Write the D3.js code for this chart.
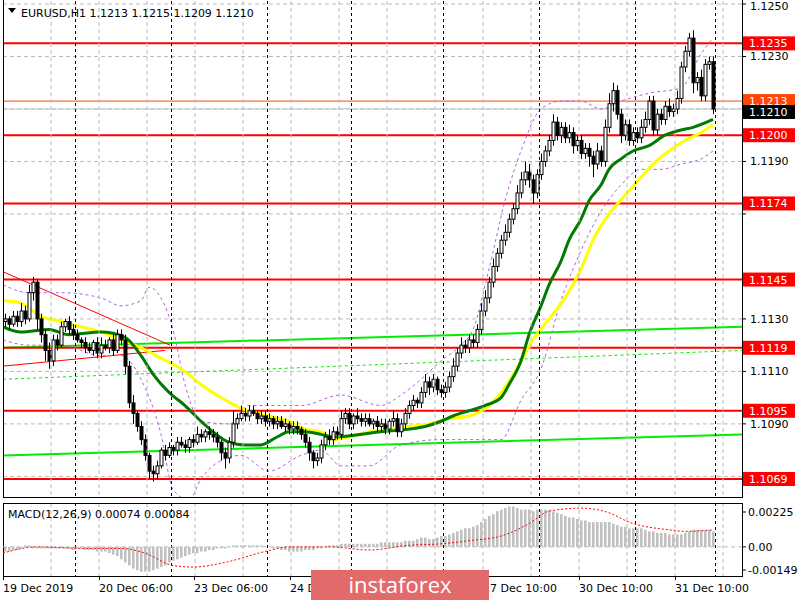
<!DOCTYPE html>
<html><head><meta charset="utf-8">
<script src="https://cdn.jsdelivr.net/npm/d3@7"></script>
<style>body{margin:0;background:#fff}svg{display:block;font-family:"DejaVu Sans",Tahoma,sans-serif}</style>
</head><body><svg id="c" width="800" height="600"></svg>
<script>
const closes=[1.1130,1.1128,1.1131,1.1129,1.1133,1.1130,1.1140,1.1144,1.1130,1.1124,
1.1118,1.1114,1.1122,1.1120,1.1127,1.1129,1.1126,1.1124,1.1122,1.1121,
1.1119,1.1118,1.1121,1.1117,1.1120,1.1119,1.1122,1.1118,1.1124,1.1122,
1.1112,1.1098,1.1094,1.1089,1.1084,1.1078,1.1072,1.1071,1.1074,1.1080,
1.1078,1.1081,1.1080,1.1083,1.1082,1.1081,1.1084,1.1083,1.1086,1.1085,
1.1087,1.1086,1.1085,1.1083,1.1079,1.1077,1.1083,1.1090,1.1092,1.1094,
1.1093,1.1095,1.1094,1.1092,1.1093,1.1091,1.1092,1.1090,1.1091,1.1089,
1.1090,1.1088,1.1089,1.1088,1.1086,1.1083,1.1079,1.1076,1.1077,1.1082,
1.1085,1.1084,1.1087,1.1086,1.1092,1.1094,1.1090,1.1093,1.1092,1.1091,
1.1092,1.1090,1.1091,1.1089,1.1090,1.1088,1.1091,1.1092,1.1087,1.1090,
1.1094,1.1097,1.1099,1.1098,1.1102,1.1106,1.1104,1.1107,1.1103,1.1102,
1.1104,1.1108,1.1112,1.1117,1.1120,1.1119,1.1122,1.1121,1.1126,1.1133,
1.1138,1.1144,1.1150,1.1155,1.1160,1.1163,1.1168,1.1172,1.1178,1.1183,
1.1186,1.1183,1.1178,1.1185,1.1190,1.1194,1.1198,1.1205,1.1200,1.1203,
1.1199,1.1201,1.1196,1.1198,1.1193,1.1195,1.1192,1.1189,1.1194,1.1190,
1.1203,1.1212,1.1217,1.1208,1.1200,1.1204,1.1198,1.1201,1.1199,1.1203,
1.1206,1.1213,1.1202,1.1208,1.1206,1.1211,1.1209,1.1210,1.1214,1.1226,
1.1232,1.1237,1.1220,1.1222,1.1215,1.1227,1.1228,1.1210];
const firstOpen=1.1129;
const upWick=[2,1,2,2,3,2,3,2,1,2, 2,3,2,2,2,1,2,2,2,1, 2,2,1,2,3,2,1,2,2,2, 2,2,3,1,2,2,1,2,2,1,
2,2,1,2,2,2,1,2,3,2, 1,2,2,2,1,2,2,5,2,3, 2,2,2,1,2,2,2,1,2,2, 2,1,2,2,1,2,2,1,2,2,
2,3,2,2,3,2,2,1,3,2, 2,2,1,2,2,2,1,3,2,2, 2,2,2,1,2,3,2,2,1,2, 2,2,3,2,3,2,2,2,2,3,
3,2,3,2,2,3,2,2,3,3, 4,3,2,2,3,2,2,3,2,2, 2,3,2,2,2,2,2,2,3,2, 3,4,3,2,2,2,2,2,2,3,
3,2,2,2,2,2,3,2,3,2, 2,2,3,2,3,2,2,2];
const dnWick=[2,2,1,2,2,2,1,3,4,3, 4,3,2,2,1,2,2,2,1,2, 2,1,2,2,2,1,2,2,1,2, 3,2,4,2,2,2,3,3,2,1,
2,1,2,2,1,2,2,2,1,2, 2,2,2,2,3,4,2,2,2,1, 2,2,1,2,2,2,2,2,2,1, 2,2,2,2,2,2,3,3,2,2,
2,2,2,2,2,2,2,2,2,2, 2,1,2,2,2,2,2,2,2,2, 2,2,2,2,2,2,3,2,2,2, 2,2,2,2,2,2,2,2,2,2,
2,2,2,2,2,2,2,2,2,2, 2,3,4,2,2,2,2,2,2,3, 2,2,3,2,2,2,4,5,2,2, 2,2,3,2,3,2,2,2,2,2,
2,2,2,2,2,2,2,2,2,2, 2,2,4,3,2,2,2,2];
const macdHist=[-0.0003,-0.0003,-0.0002,-0.0002,-0.0001,0.0001,0.0001,-0.0001,-0.0001,-0.0001,
-0.0001,-0.0001,-0.0001,-0.0001,-0.0001,-0.0001,-0.0001,-0.0002,-0.0001,-0.0001,
-0.0002,-0.0002,-0.0002,-0.0003,-0.0003,-0.0003,-0.0004,-0.0005,-0.0006,-0.0008,
-0.0010,-0.0012,-0.0014,-0.0015,-0.0016,-0.0016,-0.0016,-0.0015,-0.0014,-0.0013,
-0.0012,-0.0010,-0.0009,-0.0008,-0.0007,-0.0006,-0.0005,-0.0004,-0.0004,-0.0003,
-0.0003,-0.0002,-0.0002,-0.0001,-0.0001,-0.0001,0,0.0001,0.0001,0.0001,
0.0001,0.0001,0.0001,0.0001,0.0001,0,0,-0.0001,-0.0001,-0.0002,
-0.0002,-0.0003,-0.0003,-0.0003,-0.0003,-0.0002,-0.0002,-0.0002,-0.0001,-0.0001,
0,0.0001,0.0001,0.0001,0.0002,0.0002,0.0002,0.0002,0.0002,0.0002,
0.0002,0.0002,0.0002,0.0002,0.0003,0.0003,0.0003,0.0003,0.0003,0.0003,
0.0004,0.0004,0.0004,0.0005,0.0006,0.0006,0.0005,0.0005,0.0006,0.0007,
0.0007,0.0008,0.0009,0.0010,0.0011,0.0012,0.0012,0.0013,0.0014,0.0016,
0.0018,0.0020,0.0021,0.0023,0.0024,0.0025,0.0026,0.0026,0.0025,0.0024,
0.0024,0.0024,0.0023,0.0024,0.0024,0.0024,0.0024,0.0023,0.0022,0.0021,
0.0020,0.0019,0.0019,0.0018,0.0017,0.0017,0.0016,0.0016,0.0016,0.0016,
0.0016,0.0016,0.0015,0.0014,0.0013,0.0013,0.0012,0.0012,0.0012,0.0012,
0.0011,0.0010,0.0010,0.0009,0.0009,0.0009,0.0008,0.0008,0.0008,0.0008,
0.0009,0.0010,0.0011,0.0011,0.0011,0.0011,0.0011,0.0010];
const signalIdx=[-0.5,8,20,29,35,42,47,55,65,71,81,91,101,109,116,124,131,136,144,151,156,166,170,177];
const signalVal=[-0.0004,0,-0.0001,-0.0001,-0.0004,-0.0012,-0.0013,-0.0010,-0.0003,0,0,-0.0002,0.0001,0.0002,0.0004,0.0007,0.0015,0.0023,0.0025,0.0022,0.0016,0.0011,0.0010,0.0011];
const greenIdx=[-0.5,4,11,16,24,30,34,37,41,45,49,52,56,60,64,68,71,75,79,82,94,101,105,109,112,116,120,124,126,129,131,134,136,139,141,144,146,149,151,154,157,161,165,169,172,177];
const greenVal=[1.1127,1.1125,1.1126,1.1124,1.1125,1.1123,1.1116,1.1109,1.1102,1.1097,1.1091,1.1087,1.1083,1.1082,1.1082,1.1085,1.1087,1.1087,1.1086,1.1085,1.1087,1.1088,1.1089,1.1091,1.1093,1.1095,1.1097,1.1100,1.1105,1.1114,1.1124,1.1135,1.1143,1.1152,1.1160,1.1168,1.1175,1.1181,1.1187,1.1191,1.1194,1.1196,1.1200,1.1202,1.1203,1.1206,1.1211].slice(0,46);
const yellowIdx=[-0.5,4,9,14,19,24,29,34,39,44,49,54,59,66,71,75,79,82,86,91,96,101,106,111,116,121,125,129,132,136,140,144,147,151,155,159,162,166,170,174,177];
const yellowVal=[1.1137,1.1136,1.1131,1.1129,1.1127,1.1125,1.1122,1.1119,1.1115,1.1111,1.1105,1.1100,1.1096,1.1093,1.1091,1.1088,1.1087,1.1084,1.1085,1.1087,1.1088,1.1089,1.1090,1.1092,1.1093,1.1097,1.1104,1.1114,1.1122,1.1130,1.1138,1.1149,1.1160,1.1170,1.1177,1.1184,1.1189,1.1194,1.1198,1.1201,1.1204];
const bbUpIdx=[-0.5,6,14,24,29,34,36,39,42,45,49,56,61,74,84,94,99,104,109,114,117,121,125,129,134,139,144,149,154,161,169,174,177];
const bbUpVal=[1.1143,1.1140,1.1140,1.1138,1.1135,1.1137,1.1142,1.1138,1.1126,1.1105,1.1091,1.1090,1.1097,1.1097,1.1101,1.1097,1.1101,1.1107,1.1114,1.1120,1.1126,1.1149,1.1175,1.1194,1.1210,1.1213,1.1213,1.1210,1.1213,1.1216,1.1218,1.1231,1.1237];
const bbDnIdx=[-0.5,6,14,24,29,34,39,42,46,49,54,59,66,74,79,84,91,99,109,124,129,134,139,144,149,154,159,164,169,174,177];
const bbDnVal=[1.1122,1.1120,1.1120,1.1116,1.1116,1.1107,1.1086,1.1065,1.1061,1.1069,1.1076,1.1078,1.1072,1.1078,1.1080,1.1074,1.1074,1.1082,1.1084,1.1084,1.1099,1.1111,1.1137,1.1156,1.1171,1.1181,1.1187,1.1187,1.1189,1.1191,1.1194];
const longMaIdx=[-0.5,184.25];
const longMaA=[1.1119,1.1127], longMaB=[1.1078,1.1086], longMaC=[1.1107,1.1118];
const trendA=[[-0.5,1.1148],[41.25,1.1120]], trendB=[[-0.5,1.1112],[40,1.1118]];
const levels=[1.1235,1.1200,1.1174,1.1145,1.1119,1.1095,1.1069];
const orangeLevel=1.1213, lastPrice=1.1210;
const priceTicks=[1.1250,1.1230,1.1210,1.1190,1.1170,1.1130,1.1110,1.1090,1.1070];
const macdTicks=[0.00225,0,-0.00149];
const macdTickLabels=["0.00225","0.00","-0.00149"];
const timeLabels=["19 Dec 2019","20 Dec 06:00","23 Dec 06:00","24 Dec 06:00","27 Dec 10:00","30 Dec 10:00","31 Dec 10:00"];
const timeLabelIdx=[-0.5,23.5,47.25,71.25,119.5,143.5,167.5];
const daySepIdx=[17.5,41.5,65.5,86.5,109.5,133.5,157.5,177.5];

const svg=d3.select("#c");
const x=d3.scaleLinear().domain([0,177]).range([5,713]);
const y=d3.scaleLinear().domain([1.1069,1.1250]).range([479,4]);
const ym=d3.scaleLinear().domain([-0.00149,0.00225]).range([570,512]);
const L=3,R=742,T=1,B=497,MT=503,MB=576;
const defs=svg.append("defs");
defs.append("clipPath").attr("id","cp").append("rect").attr("x",L).attr("y",T).attr("width",R-L).attr("height",B-T);
defs.append("clipPath").attr("id","co").append("rect").attr("x",R+1).attr("y",y(orangeLevel)-7).attr("width",52).attr("height",y(lastPrice)-4-(y(orangeLevel)-7));
const g=svg.append("g").attr("clip-path","url(#cp)");
for(let gx=51;gx<R;gx+=48){[ [T,B],[MT,MB] ].forEach(([a,b])=>svg.append("line").attr("x1",gx).attr("x2",gx).attr("y1",a).attr("y2",b).attr("stroke","#bbb").attr("stroke-dasharray","4,3"));}
priceTicks.forEach(p=>g.append("line").attr("x1",L).attr("x2",R).attr("y1",y(p)).attr("y2",y(p)).attr("stroke","#bbb").attr("stroke-dasharray","4,3"));
daySepIdx.forEach(i=>[[T,B],[MT,MB]].forEach(([a,b])=>svg.append("line").attr("x1",Math.round(x(i))+.5).attr("x2",Math.round(x(i))+.5).attr("y1",a).attr("y2",b).attr("stroke","#000").attr("stroke-dasharray","3,3")));
const ln=d3.line().x(d=>x(d[0])).y(d=>y(d[1]));
const pairs=(idx,v)=>idx.map((i,k)=>[i,v[k]]);
g.append("path").attr("d",ln(pairs(longMaIdx,longMaA))).attr("stroke","#00ee00").attr("stroke-width",2).attr("fill","none");
g.append("path").attr("d",ln(pairs(longMaIdx,longMaB))).attr("stroke","#00ee00").attr("stroke-width",2).attr("fill","none");
g.append("path").attr("d",ln(pairs(longMaIdx,longMaC))).attr("stroke","#00ee00").attr("stroke-width",1).attr("stroke-dasharray","3,3").attr("fill","none");
levels.forEach(p=>g.append("line").attr("x1",L).attr("x2",R).attr("y1",y(p)).attr("y2",y(p)).attr("stroke","#ff0000").attr("stroke-width",2));
g.append("line").attr("x1",L).attr("x2",R).attr("y1",y(orangeLevel)).attr("y2",y(orangeLevel)).attr("stroke","#ff4500").attr("stroke-width",1);
g.append("line").attr("x1",L).attr("x2",R).attr("y1",y(lastPrice)).attr("y2",y(lastPrice)).attr("stroke","#c0c0c0").attr("stroke-width",1);
[trendA,trendB].forEach(t=>g.append("path").attr("d",ln(t)).attr("stroke","#ff0000").attr("fill","none"));
const lc=d3.line().x(d=>x(d[0])).y(d=>y(d[1])).curve(d3.curveMonotoneX);
g.append("path").attr("d",lc(pairs(bbUpIdx,bbUpVal))).attr("stroke","#b060e0").attr("stroke-dasharray","3,3").attr("fill","none");
g.append("path").attr("d",lc(pairs(bbDnIdx,bbDnVal))).attr("stroke","#b060e0").attr("stroke-dasharray","3,3").attr("fill","none");
g.append("path").attr("d",lc(pairs(yellowIdx,yellowVal))).attr("stroke","#ffff00").attr("stroke-width",3).attr("fill","none");
g.append("path").attr("d",lc(pairs(greenIdx,greenVal))).attr("stroke","#007a00").attr("stroke-width",3).attr("fill","none");
closes.forEach((c,i)=>{
  const o=i?closes[i-1]:firstOpen;
  const hi=Math.max(o,c)+upWick[i]*0.0001, lo=Math.min(o,c)-dnWick[i]*0.0001;
  const cx=Math.round(x(i))+.5;
  g.append("line").attr("x1",cx).attr("x2",cx).attr("y1",y(hi)).attr("y2",y(lo)).attr("stroke","#000");
  const top=y(Math.max(o,c)), h=Math.max(1,y(Math.min(o,c))-top);
  g.append("rect").attr("x",cx-1.5).attr("y",top).attr("width",3).attr("height",h).attr("fill",c>=o?"#fff":"#000").attr("stroke","#000").attr("stroke-width",1);
});
svg.append("rect").attr("x",L+.5).attr("y",-1).attr("width",R-L).attr("height",B+1.5).attr("fill","none").attr("stroke","#000");
svg.append("rect").attr("x",L+.5).attr("y",MT+.5).attr("width",R-L).attr("height",MB-MT).attr("fill","none").attr("stroke","#000");
svg.append("path").attr("d","M8,8 L16,8 L12,13 Z").attr("fill","#000");
svg.append("text").attr("x",21).attr("y",17).attr("font-size",11).text("EURUSD,H1  1.1213 1.1215 1.1209 1.1210");
const tagged=levels.concat([orangeLevel,lastPrice]);
priceTicks.forEach(p=>{svg.append("line").attr("x1",R).attr("x2",R+4).attr("y1",y(p)).attr("y2",y(p)).attr("stroke","#000");
 if(tagged.some(t=>Math.abs(y(t)-y(p))<12)) return;
 svg.append("text").attr("x",750).attr("y",Math.max(y(p)+4,10)).attr("font-size",11).text(p.toFixed(4));});
const tag=(p,bg,fg)=>{svg.append("rect").attr("x",R+1).attr("y",y(p)-7).attr("width",52).attr("height",14).attr("fill",bg);
 svg.append("text").attr("x",749).attr("y",y(p)+4).attr("font-size",11).attr("fill",fg).text(p.toFixed(4));};
levels.forEach(p=>tag(p,"#ff0000","#fff"));
const og=svg.append("g").attr("clip-path","url(#co)");
og.append("rect").attr("x",R+1).attr("y",y(orangeLevel)-7).attr("width",52).attr("height",14).attr("fill","#ff4500");
og.append("text").attr("x",749).attr("y",y(orangeLevel)+4).attr("font-size",11).attr("fill","#fff").text(orangeLevel.toFixed(4));
svg.append("rect").attr("x",R+1).attr("y",y(lastPrice)-4).attr("width",52).attr("height",14).attr("fill","#000");
svg.append("text").attr("x",749).attr("y",y(lastPrice)+7).attr("font-size",11).attr("fill","#fff").text(lastPrice.toFixed(4));
svg.append("line").attr("x1",L).attr("x2",R).attr("y1",ym(0)).attr("y2",ym(0)).attr("stroke","#bbb").attr("stroke-dasharray","4,3");
macdHist.forEach((v,i)=>svg.append("rect").attr("x",x(i)-1).attr("y",Math.min(ym(v),ym(0))).attr("width",2.6).attr("height",Math.abs(ym(v)-ym(0))).attr("fill","#c0c0c0"));
svg.append("path").attr("d",d3.line().x(d=>x(d[0])).y(d=>ym(d[1])).curve(d3.curveMonotoneX)(pairs(signalIdx,signalVal))).attr("stroke","#ff0000").attr("stroke-dasharray","2,2").attr("fill","none");
svg.append("text").attr("x",8).attr("y",518).attr("font-size",11).text("MACD(12,26,9) 0.00074 0.00084");
macdTicks.forEach((v,k)=>{svg.append("line").attr("x1",R).attr("x2",R+4).attr("y1",ym(v)).attr("y2",ym(v)).attr("stroke","#000");
 svg.append("text").attr("x",748).attr("y",ym(v)+4).attr("font-size",11).text(macdTickLabels[k]);});
timeLabels.forEach((t,k)=>{const tx=Math.round(x(timeLabelIdx[k]));
 svg.append("line").attr("x1",tx+.5).attr("x2",tx+.5).attr("y1",MB).attr("y2",MB+4).attr("stroke","#000");
 svg.append("text").attr("x",tx).attr("y",592).attr("font-size",11).text(t);});
svg.append("rect").attr("x",311).attr("y",570).attr("width",178).attr("height",32).attr("fill","#e36a6a");
svg.append("text").attr("x",400).attr("y",593).attr("text-anchor","middle").attr("font-size",22).attr("fill","#fff").attr("font-family","Open Sans, sans-serif").text("instaforex");
</script></body></html>
